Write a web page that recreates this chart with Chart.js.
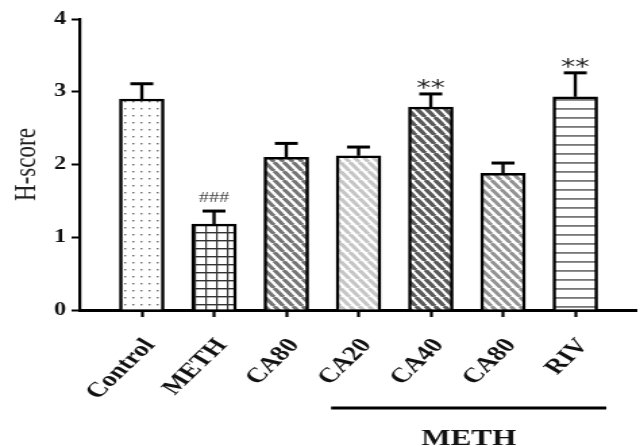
<!DOCTYPE html>
<html>
<head>
<meta charset="utf-8">
<script src="https://cdn.jsdelivr.net/npm/chart.js@4.4.0/dist/chart.umd.min.js"></script>
<style>
  html, body { margin: 0; padding: 0; background: #fff; }
</style>
</head>
<body>
<!-- the original figure is stretched sideways, so the canvas is drawn narrow and widened -->
<canvas id="chart" width="474" height="447" style="display:block;width:640px;height:447px"></canvas>
<script>
// ===== Data =====
const categories = ["Control", "METH", "CA80", "CA20", "CA40", "CA80", "RIV"];
const hScore = [2.90, 1.18, 2.10, 2.12, 2.79, 1.88, 2.93];
const sem = [0.21, 0.18, 0.19, 0.12, 0.18, 0.14, 0.33];
const marks = ["", "###", "", "", "**", "", "**"];
const yTicks = [0, 1, 2, 3, 4];
const groupLabel = "METH";

Chart.defaults.font.family = "'Liberation Serif', 'Times New Roman', serif";

// ===== Fill patterns =====
function tile(w, h, draw) {
  const c = document.createElement("canvas");
  c.width = w;
  c.height = h;
  const g = c.getContext("2d");
  g.fillStyle = "#fff";
  g.fillRect(0, 0, w, h);
  draw(g, w, h);
  return g.createPattern(c, "repeat");
}

function dots() {
  return tile(6, 7, (g) => {
    g.fillStyle = "#666";
    g.fillRect(2, 3, 1.4, 1.4);
  });
}

function grid() {
  return tile(8, 8, (g, w, h) => {
    g.fillStyle = "#333";
    g.fillRect(0, 0, 1.2, h);
    g.fillRect(0, 0, w, 1.4);
  });
}

function stripes(color, lw) {
  return tile(7, 9, (g, w, h) => {
    g.strokeStyle = color;
    g.lineWidth = lw;
    for (let k = -1; k <= 1; k++) {
      g.beginPath();
      g.moveTo(k * w, 0);
      g.lineTo(k * w + w, h);
      g.stroke();
    }
  });
}

function hlines() {
  return tile(4, 9, (g, w) => {
    g.fillStyle = "#777";
    g.fillRect(0, 0, w, 1.8);
  });
}

const fills = [
  dots(),
  grid(),
  stripes("#767676", 3.2),
  stripes("#c6c6c6", 3.2),
  stripes("#5a5a5a", 3.4),
  stripes("#939393", 3.0),
  hlines(),
];

// ===== Error bars + significance marks =====
const errorBars = {
  id: "errorBars",
  afterDatasetsDraw(chart) {
    const { ctx, scales: { x, y } } = chart;
    ctx.save();
    ctx.strokeStyle = "#000";
    hScore.forEach((v, i) => {
      const px = x.getPixelForValue(i + 1);
      const y0 = y.getPixelForValue(v);
      const y1 = y.getPixelForValue(v + sem[i]);
      ctx.lineWidth = 2.4;
      ctx.beginPath();
      ctx.moveTo(px, y0);
      ctx.lineTo(px, y1);
      ctx.stroke();
      ctx.lineWidth = 3;
      ctx.beginPath();
      ctx.moveTo(px - 8.5, y1);
      ctx.lineTo(px + 8.5, y1);
      ctx.stroke();

      if (marks[i] === "###") {
        ctx.fillStyle = "#444";
        ctx.font = "15px 'Liberation Serif', serif";
        ctx.textAlign = "center";
        ctx.textBaseline = "middle";
        ctx.fillText(marks[i], px, y1 - 13);
      } else if (marks[i]) {
        ctx.fillStyle = "#222";
        ctx.font = "21px 'DejaVu Sans', sans-serif";
        ctx.textAlign = "center";
        ctx.textBaseline = "alphabetic";
        ctx.fillText(marks[i], px, y1 + 1);
      }
    });
    ctx.restore();
  },
};

// ===== Group line under the METH-treated bars =====
const groupBar = {
  id: "groupBar",
  afterDraw(chart) {
    const { ctx, scales: { x } } = chart;
    const x0 = x.getPixelForValue(3.62);
    const x1 = x.getPixelForValue(7.43);
    ctx.save();
    ctx.strokeStyle = "#000";
    ctx.lineWidth = 3;
    ctx.beginPath();
    ctx.moveTo(x0, 408);
    ctx.lineTo(x1, 408);
    ctx.stroke();
    ctx.fillStyle = "#111";
    ctx.font = "bold 23px 'Liberation Serif', serif";
    ctx.textAlign = "center";
    ctx.textBaseline = "middle";
    ctx.fillText(groupLabel, (x0 + x1) / 2, 439);
    ctx.restore();
  },
};

// ===== Chart =====
new Chart(document.getElementById("chart"), {
  type: "bar",
  data: {
    datasets: [
      {
        data: categories.map((c, i) => ({ x: i + 1, y: hScore[i] })),
        backgroundColor: fills,
        borderColor: "#000",
        borderWidth: 2.5,
        barThickness: 33,
      },
    ],
  },
  options: {
    responsive: false,
    animation: false,
    layout: { padding: { top: 19, left: 0, right: 3, bottom: 0 } },
    plugins: {
      legend: { display: false },
      tooltip: { enabled: false },
    },
    scales: {
      x: {
        type: "linear",
        offset: false,
        min: 0.14,
        max: 7.84,
        afterBuildTicks: (s) => {
          s.ticks = categories.map((c, i) => ({ value: i + 1 }));
        },
        afterFit: (s) => {
          s.height = 137;
        },
        grid: {
          offset: false,
          drawOnChartArea: false,
          drawTicks: true,
          tickLength: 7,
          tickWidth: 2.2,
          tickColor: "#000",
        },
        border: { color: "#000", width: 3 },
        ticks: {
          autoSkip: false,
          minRotation: 52,
          maxRotation: 52,
          padding: 17,
          labelOffset: 6,
          color: "#111",
          font: { size: 21, weight: "bold" },
          callback: (v) => categories[v - 1] || "",
        },
      },
      y: {
        min: 0,
        max: 4,
        afterBuildTicks: (s) => {
          s.ticks = yTicks.map((v) => ({ value: v }));
        },
        afterFit: (s) => {
          s.width = 59;
        },
        grid: {
          drawOnChartArea: false,
          tickLength: 6,
          tickWidth: 2,
          tickColor: "#000",
        },
        border: { color: "#000", width: 2.2 },
        ticks: {
          padding: 4,
          color: "#111",
          font: { size: 18, weight: "bold" },
        },
        title: {
          display: true,
          text: "H-score",
          color: "#222",
          font: { size: 23 },
          padding: { top: 6, bottom: 0 },
        },
      },
    },
  },
  plugins: [errorBars, groupBar],
});
</script>
</body>
</html>
